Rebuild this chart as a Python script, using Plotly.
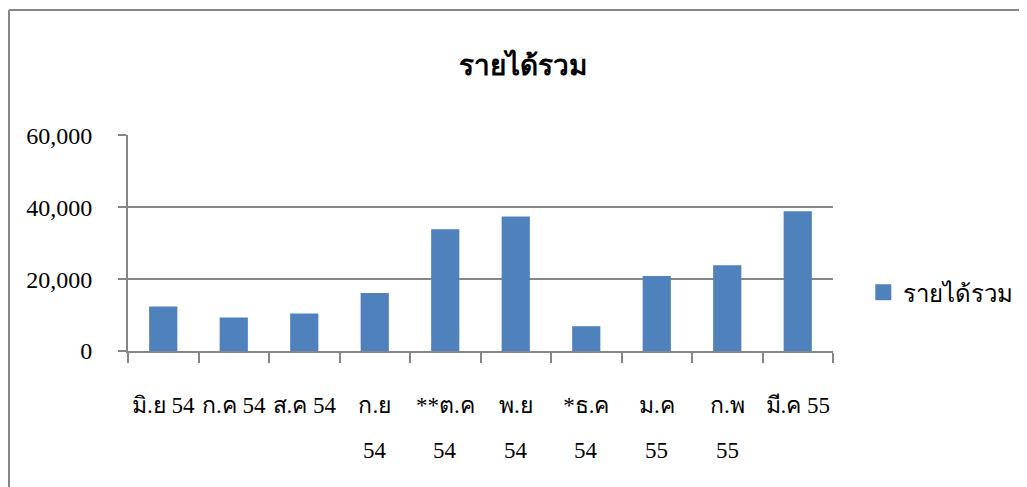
import plotly.graph_objects as go

# data
months = ["มิ.ย 54", "ก.ค 54", "ส.ค 54", "ก.ย 54", "**ต.ค 54", "พ.ย 54",
          "*ธ.ค 54", "ม.ค 55", "ก.พ 55", "มี.ค 55"]
# tick labels as wrapped in the reference (first line / second line)
tick_line1 = ["มิ.ย 54", "ก.ค 54", "ส.ค 54", "ก.ย", "**ต.ค", "พ.ย",
              "*ธ.ค", "ม.ค", "ก.พ", "มี.ค 55"]
tick_line2 = ["", "", "", "54", "54", "54", "54", "55", "55", ""]
income = [12350, 9300, 10400, 16150, 33900, 37400, 6900, 20900, 23850, 38900]
y_ticks = [0, 20000, 40000, 60000]
y_tick_text = ["0", "20,000", "40,000", "60,000"]
series_name = "รายได้รวม"

bar_color = 'rgb(79,129,189)'
line_color = 'rgb(134,134,134)'
font_family = "Liberation Serif, Times New Roman, serif"

# page puts the figure 8px in from the corner
off = 8
fig_w, fig_h = 1027 - off, 487 - off
left, top = 128 - off, 135 - off
plot_w, plot_h = 705, 216
right = fig_w - left - plot_w
bottom = fig_h - top - plot_h

fig = go.Figure()
fig.add_trace(
    go.Bar(
        x=months,
        y=income,
        name=series_name,
        marker=dict(color=bar_color, line=dict(width=0)),
        showlegend=False,
    )
)
# legend entry with a bigger swatch
fig.add_trace(
    go.Scatter(
        x=[None],
        y=[None],
        mode='markers',
        name=series_name,
        marker=dict(symbol='square', size=20, color=bar_color),
        showlegend=True,
    )
)

annotations = []
for m, second in zip(months, tick_line2):
    if second:
        annotations.append(dict(
            x=m, y=0, xref='x', yref='y',
            text=second, showarrow=False,
            yshift=-99, font=dict(size=23),
        ))

fig.update_layout(
    width=fig_w,
    height=fig_h,
    margin=dict(l=left, r=right, t=top, b=bottom, autoexpand=False),
    paper_bgcolor='white',
    plot_bgcolor='white',
    bargap=0.6,
    font=dict(family=font_family, size=23, color='black'),
    title=dict(
        text="<b>" + series_name + "</b>",
        x=(523 - off) / fig_w,
        xanchor='center',
        y=1 - (65 - off) / fig_h,
        yanchor='middle',
        font=dict(size=28),
    ),
    legend=dict(
        x=1.043,
        y=0.27,
        xanchor='left',
        yanchor='middle',
        font=dict(size=24),
        itemwidth=30,
    ),
    annotations=annotations,
    # chart frame that runs off the right and bottom edges
    shapes=[
        dict(
            type='line', xref='paper', yref='paper',
            x0=(9 - 128) / plot_w, x1=(9 - 128) / plot_w,
            y0=(351 - 10) / plot_h, y1=-1,
            line=dict(color=line_color, width=2),
        ),
        dict(
            type='line', xref='paper', yref='paper',
            x0=(9 - 128) / plot_w, x1=(1040 - 128) / plot_w,
            y0=(351 - 10) / plot_h, y1=(351 - 10) / plot_h,
            line=dict(color=line_color, width=2),
        ),
    ],
)

fig.update_xaxes(
    tickvals=months,
    ticktext=tick_line1,
    showline=True,
    linecolor=line_color,
    linewidth=2,
    ticks='outside',
    tickson='boundaries',
    ticklen=10,
    tickwidth=2,
    tickcolor=line_color,
    showgrid=False,
    tickangle=0,
    ticklabelstandoff=32,
)
fig.update_yaxes(
    range=[0, 60100],
    tickvals=y_ticks,
    ticktext=y_tick_text,
    tickfont=dict(size=24),
    showline=True,
    linecolor=line_color,
    linewidth=2,
    ticks='outside',
    ticklen=8,
    tickwidth=2,
    tickcolor=line_color,
    showgrid=True,
    gridcolor=line_color,
    gridwidth=2,
    zeroline=False,
    ticklabelstandoff=21,
)

fig.write_html("out.html")
